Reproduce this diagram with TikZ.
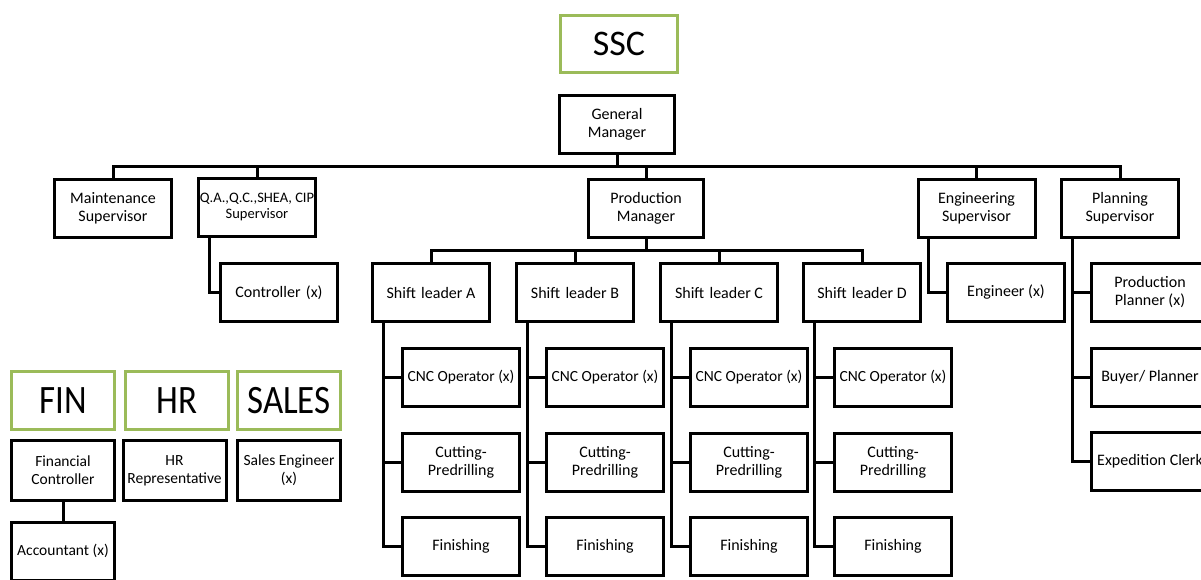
\documentclass[tikz,border=0pt]{standalone}
\usepackage{fontspec}
\setmainfont{Carlito}
\definecolor{unitgreen}{RGB}{155,187,89}
\tikzset{
  box/.style={draw=black, line width=3pt, minimum width=117pt, minimum height=58pt,
    inner sep=1pt, align=center, font=\fontsize{16}{18}\selectfont},
  smallbox/.style={box, minimum width=103pt, font=\fontsize{15.5}{18}\selectfont},
  unit/.style={draw=unitgreen, line width=3pt, minimum width=117pt, minimum height=57pt,
    inner sep=1pt, font=\fontsize{36}{40}\selectfont},
  link/.style={draw=black, line width=3pt},
}
\newcommand{\tallhead}[1]{\scalebox{0.97}[1.12]{#1}}
\begin{document}
\begin{tikzpicture}[x=1pt, y=-1pt]
\useasboundingbox (0,0) rectangle (1201,579);
\clip (0,0) rectangle (1201,579);

% unit headings
\node[unit] (ssc) at (619,44) {SSC};
\node[unit, minimum width=103pt, minimum height=58pt] (fin) at (63,400.5) {\tallhead{FIN}};
\node[unit, minimum width=103pt, minimum height=58pt] (hr) at (177,400.5) {\tallhead{HR}};
\node[unit, minimum width=103pt, minimum height=58pt] (sales) at (289,400.5) {\tallhead{SALES}};

% management
\node[box, minimum width=115pt] (gm) at (617,124.5) {General\\Manager};
\node[box] (ms) at (113,208) {Maintenance\\Supervisor};
\node[box, font=\fontsize{14.5}{16}\selectfont] (qa) at (257,207) {Q.A.,Q.C.,SHEA, CIP\\Supervisor};
\node[box, minimum width=115pt] (pm) at (646,208) {Production\\Manager};
\node[box] (es) at (976.5,208) {Engineering\\Supervisor};
\node[box] (ps) at (1120,208) {Planning\\Supervisor};

% second level
\node[box] (ctrl) at (279,292.5) {Controller\,\,(x)};
\node[box] (sla) at (431,292.5) {Shift\,\,leader A};
\node[box] (slb) at (575,292.5) {Shift\,\,leader B};
\node[box] (slc) at (719,292.5) {Shift\,\,leader C};
\node[box] (sld) at (862,292.5) {Shift\,\,leader D};
\node[box] (eng) at (1006,292.5) {Engineer (x)};
\node[box] (pp) at (1150,292.5) {Production\\Planner (x)};
\node[box] (bp) at (1150,377.5) {Buyer/ Planner};
\node[box] (ec) at (1150,461.5) {Expedition Clerk};

% shift teams
\foreach \n/\x in {a/461, b/605, c/749, d/893} {
  \node[box, font=\fontsize{15.5}{18}\selectfont] (cnc\n) at (\x,377.5) {CNC Operator (x)};
  \node[box] (cut\n) at (\x,462) {Cutting-\\Predrilling};
  \node[box] (fin\n) at (\x,546.5) {Finishing};
}

% support functions
\node[smallbox, minimum height=60pt] (fc) at (63,470.5) {Financial\\Controller};
\node[smallbox, minimum height=60pt] (hrrep) at (174.5,470.5) {HR\\Representative};
\node[smallbox, minimum height=60pt] (se) at (289,470.5) {Sales Engineer\\(x)};
\node[smallbox] (acc) at (63,551) {Accountant (x)};

% bus lines
\coordinate (topbus) at (0,166);
\coordinate (shiftbus) at (0,250);

% general manager to supervisors
\foreach \m in {ms, qa, pm, es, ps}
  \draw[link] (gm.south) -- (gm.south |- topbus) -| (\m.north);

% production manager to shift leaders
\foreach \m in {sla, slb, slc, sld}
  \draw[link] (pm.south) -- (pm.south |- shiftbus) -| (\m.north);

% side branches
\draw[link] ([xshift=12pt]qa.south west) |- (ctrl.west);
\draw[link] ([xshift=12pt]es.south west) |- (eng.west);
\foreach \m in {pp, bp, ec}
  \draw[link] ([xshift=12pt]ps.south west) |- (\m.west);
\foreach \n in {a, b, c, d}
  \foreach \m in {cnc, cut, fin}
    \draw[link] ([xshift=12pt]sl\n.south west) |- (\m\n.west);

\draw[link] (fc.south) -- (acc.north);
\end{tikzpicture}
\end{document}
